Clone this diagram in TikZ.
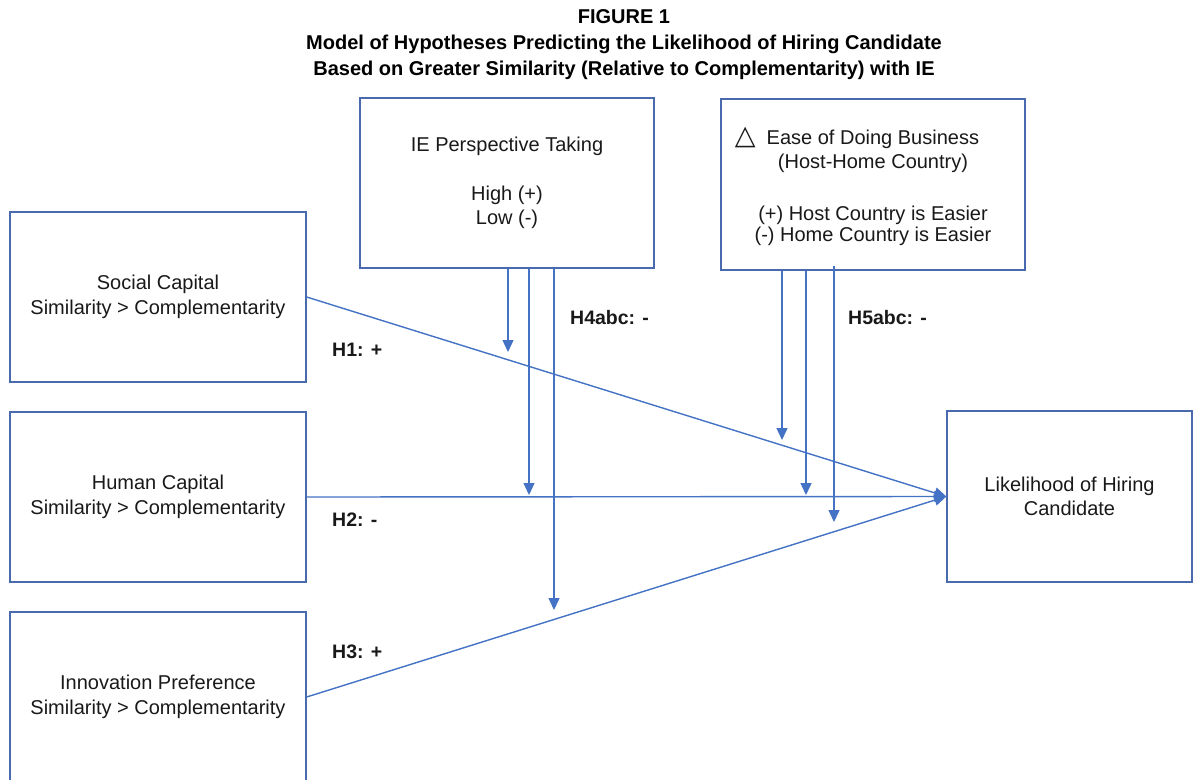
\documentclass[tikz,border=0pt]{standalone}
\usepackage{fontspec}
\setmainfont{Liberation Sans}
\newfontfamily\symfont{DejaVu Sans}
\usetikzlibrary{arrows.meta}
\definecolor{linkblue}{RGB}{68,114,196}
\definecolor{frameblue}{RGB}{74,106,175}
\definecolor{inktext}{RGB}{25,25,25}
\begin{document}
\begin{tikzpicture}[x=1pt,y=-1pt,
  varbox/.style={draw=frameblue,line width=1.3pt,align=center,inner sep=0pt,
    text=inktext,font=\fontsize{20}{24.5}\selectfont},
  link/.style={draw=linkblue,line width=1.4pt},
  linkarrow/.style={link,-{Triangle[length=12pt,width=11pt]}},
  hyp/.style={font=\bfseries\fontsize{19.5}{22}\selectfont,text=inktext,anchor=west,inner sep=0pt},
  titletext/.style={font=\bfseries\fontsize{20}{26}\selectfont,align=center,text=black}]
\useasboundingbox (0,0) rectangle (1193,779);
\fill[white] (0,0) rectangle (1193,779);

% title
\node[titletext] (title) at (624,45) {FIGURE 1\\Model of Hypotheses Predicting the Likelihood of Hiring Candidate\\Based on Greater Similarity (Relative to Complementarity) with IE};

% predictor boxes
\node[varbox,minimum width=296pt,minimum height=170pt] (social) at (158,297) {Social Capital\\Similarity {>} Complementarity};
\node[varbox,minimum width=296pt,minimum height=170pt] (human) at (158,497) {Human Capital\\Similarity {>} Complementarity};
\node[varbox,minimum width=296pt,minimum height=170pt] (innov) at (158,697) {Innovation Preference\\Similarity {>} Complementarity};

% moderator boxes
\node[varbox,minimum width=294pt,minimum height=170pt] (ie) at (507,183) {IE Perspective Taking\\[24pt]High (+)\\Low (-)};
\node[varbox,minimum width=304pt,minimum height=171pt] (ease) at (873,184.5) {};
\node[varbox,draw=none,anchor=north] (easetext) at (873,126) {{\symfont\fontsize{27}{24.5}\selectfont △}\hspace{11pt}Ease of Doing Business\hspace*{32pt}\\(Host-Home Country)\\[27pt](+) Host Country is Easier\\[-3pt](-) Home Country is Easier};

% outcome box
\node[varbox,minimum width=245pt,minimum height=171pt] (hire) at (1069.5,496.5) {Likelihood of Hiring\\Candidate};

% main effects
\coordinate (target) at (hire.west);
\draw[linkarrow] (social.east |- 0,297) -- (target);
\draw[linkarrow] (innov.east) -- (target);
\draw[linkarrow] (human.east) -- (target);

% moderation by perspective taking
\coordinate (ie1) at (508,352);
\coordinate (ie2) at (529,495);
\coordinate (ie3) at (554,610);
\draw[linkarrow] (ie.south -| ie1) -- (ie1);
\draw[linkarrow] (ie.south -| ie2) -- (ie2);
\draw[linkarrow] (ie.south -| ie3) -- (ie3);

% moderation by ease of doing business
\coordinate (ea1) at (782,440);
\coordinate (ea2) at (806,495);
\coordinate (ea3) at (834,522);
\draw[linkarrow] (ease.south -| ea1) -- (ea1);
\draw[linkarrow] (ease.south -| ea2) -- (ea2);
\draw[linkarrow] ([yshift=5pt]ease.south -| ea3) -- (ea3);

% hypothesis labels
\node[hyp] (h1) at (332,350) {H1: +};
\node[hyp] (h2) at (332,520) {H2: -};
\node[hyp] (h3) at (332,652) {H3: +};
\node[hyp] (h4) at (570,318) {H4abc: -};
\node[hyp] (h5) at (848,318) {H5abc: -};
\end{tikzpicture}
\end{document}
